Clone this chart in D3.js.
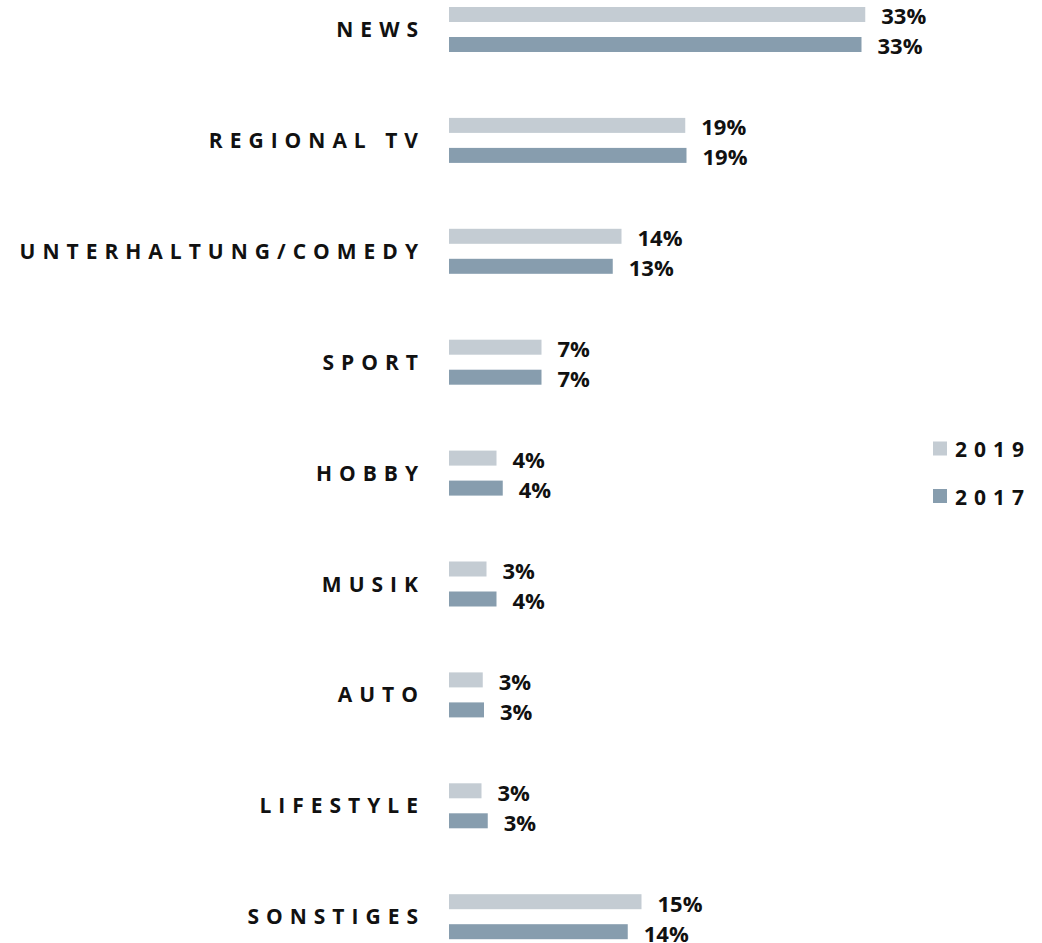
<!DOCTYPE html>
<html><head><meta charset="utf-8">
<script src="https://cdn.jsdelivr.net/npm/d3@7"></script>
<style>
html,body{margin:0;padding:0;background:#fff;}
svg{display:block;font-family:"Open Sans",sans-serif;}
</style></head>
<body>
<svg id="chart" width="1042" height="943"></svg>
<script>
const categories = ["NEWS","REGIONAL TV","UNTERHALTUNG/COMEDY","SPORT","HOBBY","MUSIK","AUTO","LIFESTYLE","SONSTIGES"];
const values2019 = [33.3, 18.9, 13.8, 7.4, 3.8, 3.0, 2.7, 2.6, 15.4];
const values2017 = [33.0, 19.0, 13.1, 7.4, 4.3, 3.8, 2.8, 3.1, 14.3];
const labels2019 = ["33%","19%","14%","7%","4%","3%","3%","3%","15%"];
const labels2017 = ["33%","19%","13%","7%","4%","4%","3%","3%","14%"];
const seriesNames = ["2019","2017"];
const colors = ["#c4ccd3","#879dae"];

const svg = d3.select("#chart");
const x0 = 449;
const x = d3.scaleLinear().domain([0, 40]).range([x0, x0 + 500]);
const y = d3.scaleBand().domain(categories).range([7, 7 + 9 * 110.9]).paddingInner(0).paddingOuter(0);
const barH = 15, gap = 30;

const series = [
  {name: seriesNames[0], vals: values2019, labs: labels2019, color: colors[0], off: 0},
  {name: seriesNames[1], vals: values2017, labs: labels2017, color: colors[1], off: gap}
];

series.forEach(s => {
  const g = svg.append("g");
  g.selectAll("rect").data(categories).join("rect")
    .attr("x", x(0))
    .attr("y", d => y(d) + s.off)
    .attr("width", (d, i) => x(s.vals[i]) - x(0))
    .attr("height", barH)
    .attr("fill", s.color);
  g.selectAll("text").data(categories).join("text")
    .attr("x", (d, i) => x(s.vals[i]) + 16)
    .attr("y", d => y(d) + s.off + barH / 2 + 2)
    .attr("dy", "0.36em")
    .attr("font-size", 22)
    .attr("font-weight", 700)
    .attr("fill", "#111")
    .text((d, i) => s.labs[i]);
});

const ls = 7;
svg.append("g").selectAll("text").data(categories).join("text")
  .attr("x", 418 + ls)
  .attr("y", d => y(d) + (gap + barH) / 2)
  .attr("dy", "0.36em")
  .attr("text-anchor", "end")
  .attr("font-size", 21)
  .attr("font-weight", 700)
  .attr("letter-spacing", ls)
  .attr("fill", "#111")
  .text(d => d);

const leg = svg.append("g");
const legY = [441.5, 489];
series.forEach((s, i) => {
  leg.append("rect").attr("x", 933).attr("y", legY[i]).attr("width", 14).attr("height", 14).attr("fill", s.color);
  leg.append("text").attr("x", 955).attr("y", legY[i] + 8).attr("dy", "0.36em")
    .attr("font-size", 21).attr("font-weight", 700).attr("letter-spacing", 7)
    .attr("fill", "#111").text(s.name);
});
</script>
</body></html>
